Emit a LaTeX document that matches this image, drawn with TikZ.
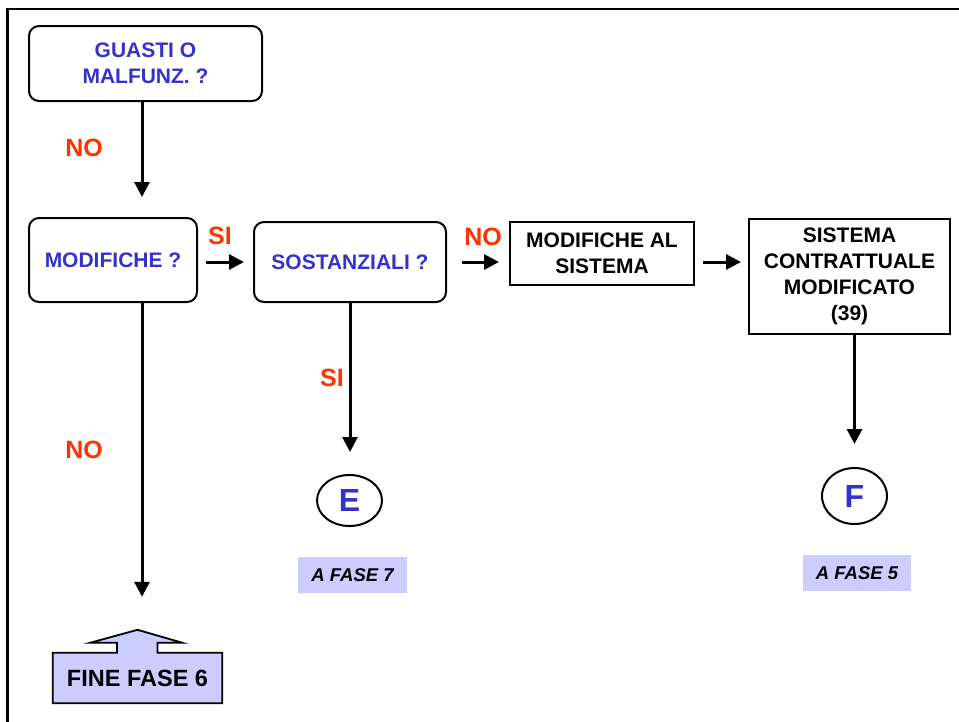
\documentclass[tikz,border=0pt]{standalone}
\usepackage{fontspec}
\setmainfont{Liberation Sans}
\usepackage{xcolor}
\usepackage{tikz}
\usetikzlibrary{calc,arrows.meta,shapes.geometric,backgrounds}

\definecolor{qblue}{HTML}{3333CC}
\definecolor{qred}{HTML}{FF3300}
\definecolor{qlilac}{HTML}{CCCCFF}

\begin{document}
\begin{tikzpicture}[x=1pt,y=-1pt,
	question/.style={draw,line width=2pt,rounded corners=10pt,inner sep=0pt,align=center,text=qblue,font=\fontsize{21}{26}\selectfont\bfseries},
	action/.style={draw,line width=2pt,inner sep=0pt,align=center,font=\fontsize{21}{26}\selectfont\bfseries},
	answer/.style={inner sep=0pt,text=qred,font=\fontsize{25}{30}\selectfont\bfseries},
	connector/.style={draw,ellipse,line width=2pt,inner sep=0pt,text=qblue,font=\fontsize{32}{36}\selectfont\bfseries},
	phase/.style={fill=qlilac,inner sep=0pt,font=\fontsize{18.5}{22}\selectfont\bfseries\itshape},
	flow/.style={line width=3pt,-{Triangle[length=15pt,width=15pt]}}]
	% Frame
	\useasboundingbox (0,0) rectangle (959,721);
	\clip (0,0) rectangle (959,721);
	\draw[line width=2.7pt] (7.3,9) rectangle (985,745);
	\coordinate (trunk) at (142,0);
	% Boxes
	\node[question,minimum width=233pt,minimum height=75pt] (guasti) at (145.5,63.5) {GUASTI O\\MALFUNZ. ?};
	\node[question,minimum width=168pt,minimum height=84pt] (modif) at (113,260) {MODIFICHE ?};
	\node[question,minimum width=192pt,minimum height=80pt] (sost) at (350,262) {SOSTANZIALI ?};
	\node[action,minimum width=184pt,minimum height=63pt] (modsis) at (602,253.5) {MODIFICHE AL\\SISTEMA};
	\node[action,minimum width=201pt,minimum height=115pt] (sistema) at (849.5,276.5) {SISTEMA\\CONTRATTUALE\\MODIFICATO\\(39)};
	\node[connector,minimum width=65pt,minimum height=51pt] (connE) at (349.5,500.5) {E};
	\node[connector,minimum width=65pt,minimum height=56pt] (connF) at (854.5,496) {F};
	\node[phase,minimum width=109pt,minimum height=36pt] (fase7) at (352.5,575) {A FASE 7};
	\node[phase,minimum width=108pt,minimum height=36pt] (fase5) at (857,573) {A FASE 5};
	\node[inner sep=0pt,minimum width=169pt,minimum height=50pt,font=\fontsize{23.5}{28}\selectfont\bfseries] (fine) at (137.5,678) {FINE FASE 6};
	\begin{scope}[on background layer]
		\draw[line width=1.8pt,fill=qlilac] (fine.south west) -- (fine.north west)
			-- ($(fine.north)+(-20.5,0)$) -- ++(0,-10) -- ++(-27,0) -- ++(47.5,-13) coordinate (fineTip)
			-- ++(45,13) -- ++(-25,0) -- ++(0,10) -- (fine.north east) -- (fine.south east) -- cycle;
	\end{scope}
	% Answers
	\node[answer] (noGuasti) at (84,148) {NO};
	\node[answer] (siModif) at (220,236) {SI};
	\node[answer] (noSost) at (483,237) {NO};
	\node[answer] (siSost) at (332,378) {SI};
	\node[answer] (noModif) at (84,450) {NO};
	% Arrows
	\draw[flow,shorten >=20pt] (guasti.south -| trunk) -- (modif.north -| trunk);
	\draw[flow,shorten >=33pt] (modif.south -| trunk) -- (fineTip -| trunk);
	\draw[flow,shorten <=8pt,shorten >=9pt] (modif.east |- sost.west) -- (sost.west);
	\draw[flow,shorten <=15pt,shorten >=10pt] (sost.east) -- (modsis.west |- sost.east);
	\draw[flow,shorten <=8pt,shorten >=7pt] (modsis.east |- sost.east) -- (sistema.west |- sost.east);
	\draw[flow,shorten >=22pt] (sost.south) -- (sost.south |- connE.north);
	\draw[flow,shorten >=23pt] (sistema.south -| connF) -- (connF.north);
\end{tikzpicture}
\end{document}
